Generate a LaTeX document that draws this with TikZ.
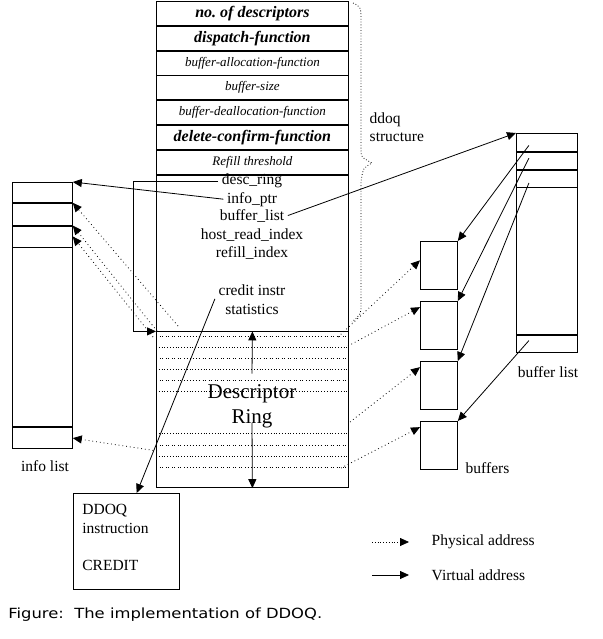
\documentclass[tikz,border=0pt]{standalone}
\usepackage{fontspec}
\setmainfont{Liberation Serif}
\newfontfamily\capfont{DejaVu Sans}
\usetikzlibrary{arrows.meta}

\begin{document}
\begin{tikzpicture}[x=1pt, y=-1pt, line width=.8pt,
  every node/.style={font=\fontsize{15.5}{18.5}\selectfont},
  fld/.style={draw, minimum width=192pt, minimum height=24pt, inner sep=0pt, anchor=north west},
  bi/.style={font=\fontsize{16}{18}\selectfont\bfseries\itshape},
  ital/.style={font=\fontsize{13}{15}\selectfont\itshape},
  big/.style={font=\fontsize{21}{25}\selectfont, inner sep=1pt, anchor=base},
  cell/.style={draw, minimum width=60pt, inner sep=0pt, anchor=north west},
  buf/.style={draw, minimum width=37pt, minimum height=48pt, inner sep=0pt, anchor=north west},
  phys/.style={->, dash pattern=on .8pt off 3pt},
  sparse/.style={dash pattern=on .8pt off 3pt on .8pt off 1.5pt},
  >={Triangle[length=9pt, width=8pt]}]
  \useasboundingbox (0,0) rectangle (602,639);
  \node[fld, bi] (f1) at (156,1) {no.\ of descriptors};
  \node[fld, bi] (f2) at (f1.south west) {dispatch-function};
  \node[fld, ital] (f3) at (f2.south west) {buffer-allocation-function};
  \node[fld, ital] (f4) at (f3.south west) {buffer-size};
  \node[fld, ital] (f5) at (f4.south west) {buffer-deallocation-function};
  \node[fld, bi] (f6) at (f5.south west) {delete-confirm-function};
  \node[fld, ital] (f7) at (f6.south west) {Refill threshold};
  \node[fld, minimum height=156pt] (regs) at (f7.south west) {};
  \node[fld, minimum height=156pt] (ring) at (regs.south west) {};
  \node[anchor=base] (descring) at (252,185) {desc\_ring};
  \node[anchor=base] (infoptr) at (252,203) {info\_ptr};
  \node[anchor=base] (buflist) at (252,220) {buffer\_list};
  \node[anchor=base] (hostidx) at (252,239) {host\_read\_index};
  \node[anchor=base] (refidx) at (252,257) {refill\_index};
  \node[anchor=base] (credit) at (252,295) {credit instr};
  \node[anchor=base] (stats) at (252,314) {statistics};
  \foreach \y/\d in {336/sparse, 347/dotted, 358/sparse, 369/dotted, 380/sparse,
      391/dotted, 433/dotted, 445/sparse, 456/dotted, 467/sparse}
    \draw[\d] (ring.west |- 0,\y) -- (ring.east |- 0,\y);
  \node[big] (desc) at (252,398) {Descriptor};
  \node[big] (ringword) at (252,423) {Ring};
  \draw[->] ([yshift=9pt]desc.north) -- (ring.north);
  \draw[->] (ringword.base) -- (ring.south);
  \draw[dotted] (353,3) .. controls (361,7) .. (361,22) -- (361,150)
    .. controls (361,157) .. (372,163) .. controls (363,168) .. (361,182)
    -- (361,305) .. controls (361,314) .. (352,322);
  \node[anchor=west, align=left] (ddoqlbl) at (366,127) {ddoq\\structure};
  % info list
  \node[cell, minimum height=20pt] (il1) at (12,182) {};
  \node[cell, minimum height=22pt] (il2) at (il1.south west) {};
  \node[cell, minimum height=21pt] (il3) at (il2.south west) {};
  \node[cell, minimum height=179pt] (il4) at (il3.south west) {};
  \node[cell, minimum height=21pt] (il5) at (il4.south west) {};
  \node (infolbl) at (45,466) {info list};
  % buffer list and buffers
  \node[cell, minimum width=61pt, minimum height=18pt] (bl1) at (516,133) {};
  \node[cell, minimum width=61pt, minimum height=17pt] (bl2) at (bl1.south west) {};
  \node[cell, minimum width=61pt, minimum height=17pt] (bl3) at (bl2.south west) {};
  \node[cell, minimum width=61pt, minimum height=147pt] (bl4) at (bl3.south west) {};
  \node[cell, minimum width=61pt, minimum height=17pt] (bl5) at (bl4.south west) {};
  \node (bllbl) at (548,372) {buffer list};
  \foreach \i/\y in {1/241, 2/301, 3/361, 4/421}
    \node[buf] (b\i) at (420,\y) {};
  \node[anchor=west] (buflbl) at (462,468) {buffers};
  \node[draw, anchor=north west, minimum width=106pt, minimum height=96pt,
    text width=88pt, inner xsep=9pt, align=left] (ddoq) at (73,493)
    {DDOQ\\instruction\\[18.5pt]CREDIT\\[-10pt]\mbox{}};
  % virtual addresses
  \coordinate (bend) at (133,0);
  \draw[->] (descring.west) -- (descring.west -| bend) |- (ring.north west);
  \draw[->] (infoptr.west) -- (il1.north east);
  \draw[->] (buflist.east) -- (bl1.north west);
  \draw[->] (credit.south west) -- (ddoq.78);
  \foreach \s/\t/\dy in {bl1/b1/3, bl2/b2/-2.5, bl3/b3/4.5, bl5/b4/-3.5}
    \draw[->] ([shift={(-18,\dy)}]\s.center) -- (\t.north east);
  % physical addresses
  \coordinate (p1) at (178,326);
  \coordinate (p2) at (157,331);
  \coordinate (p3) at (153,337);
  \coordinate (p4) at (157,451);
  \draw[phys] (p1) -- (il2.north east);
  \draw[phys] (p2) -- (il3.north east);
  \draw[phys] (p3) -- (il3.east);
  \draw[phys] (p4) -- (il5.east);
  \coordinate (q1) at (338,337);
  \coordinate (q2) at (348,346);
  \coordinate (q3) at (350,422);
  \coordinate (q4) at (341,468);
  \draw[phys] (q1) -- (b1.165);
  \draw[phys] (q2) -- (b2.136);
  \draw[phys] (q3) -- (b3.136);
  \draw[phys] (q4) -- (b4.136);
  % legend
  \node[anchor=west] (physlbl) at (428,542) {Physical address};
  \node[anchor=west] (virtlbl) at (428,575) {Virtual address};
  \draw[->, dotted] ([xshift=-56pt]physlbl.west) -- ([xshift=-19pt]physlbl.west);
  \draw[->] ([xshift=-56pt]virtlbl.west) -- ([xshift=-19pt]virtlbl.west);
  \node[anchor=base west, inner sep=0pt, font=\capfont\fontsize{14}{16}\selectfont] (cap) at (8,618)
    {\scalebox{1.17}[1]{Figure:\ \ The implementation of DDOQ.}};
\end{tikzpicture}
\end{document}
